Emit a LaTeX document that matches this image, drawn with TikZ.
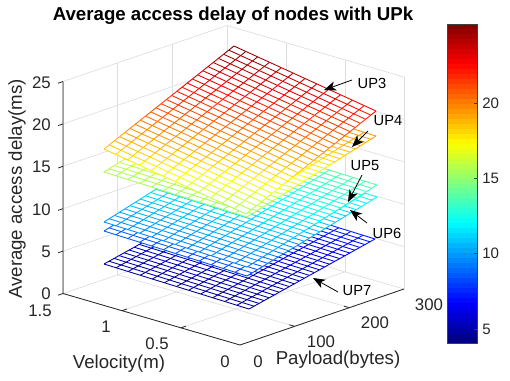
\documentclass[tikz,border=0pt]{standalone}
\usepackage{fontspec}
\setmainfont{Liberation Sans}
\usetikzlibrary{arrows.meta}

\tikzset{
 gridln/.style={draw=black!13, line width=0.5pt},
 axln/.style={draw=black!85, line width=0.6pt},
 meshln/.style={line width=0.65pt},
 ticklbl/.style={font=\fontsize{12.6}{14}\selectfont, text=black!85, inner sep=0pt},
 axlbl/.style={font=\fontsize{14}{16}\selectfont, text=black!85, inner sep=0pt},
 titlelbl/.style={font=\fontsize{14}{16}\selectfont\bfseries, inner sep=0pt},
 uplbl/.style={font=\fontsize{11}{13}\selectfont, inner sep=0pt},
 cblbl/.style={font=\fontsize{11.3}{13}\selectfont, text=black!85, inner sep=0pt, anchor=west},
 uparrow/.style={-{Stealth[length=9pt,width=7pt,inset=2.5pt]}, line width=0.6pt},
}

\newcommand{\jetset}[1]{%
 \pgfmathsetmacro{\jt}{max(0,min(1,((#1)-4.07)/21.17))}%
 \pgfmathsetmacro{\jr}{max(0,min(1,min(4*\jt-1.5,4.5-4*\jt)))}%
 \pgfmathsetmacro{\jg}{max(0,min(1,min(4*\jt-0.5,3.5-4*\jt)))}%
 \pgfmathsetmacro{\jb}{max(0,min(1,min(4*\jt+0.5,2.5-4*\jt)))}%
 \definecolor{jetc}{rgb}{\jr,\jg,\jb}}

\newcommand{\setsurf}[9]{\def\Fx{#1}\def\Fy{#2}\def\Lx{#3}\def\Ly{#4}\def\Rx{#5}\def\Ry{#6}\def\zF{#7}\def\zL{#8}\def\zR{#9}}

\newcommand{\mseg}[4]{%
 \pgfmathsetmacro{\mAx}{\Fx+(#1)/12*(\Lx-\Fx)+(#2)/25*(\Rx-\Fx)}%
 \pgfmathsetmacro{\mAy}{\Fy+(#1)/12*(\Ly-\Fy)+(#2)/25*(\Ry-\Fy)}%
 \pgfmathsetmacro{\mBx}{\Fx+(#3)/12*(\Lx-\Fx)+(#4)/25*(\Rx-\Fx)}%
 \pgfmathsetmacro{\mBy}{\Fy+(#3)/12*(\Ly-\Fy)+(#4)/25*(\Ry-\Fy)}%
 \pgfmathsetmacro{\mZ}{\zF+((#1)+(#3))/24*(\zL-\zF)+((#2)+(#4))/50*(\zR-\zF)}%
 \jetset{\mZ}%
 \draw[meshln, jetc] (\mAx,\mAy) -- (\mBx,\mBy);}

\newcommand{\drawsurf}{%
 \fill[white] (\Fx,\Fy) -- (\Lx,\Ly) -- ({\Lx+\Rx-\Fx},{\Ly+\Ry-\Fy}) -- (\Rx,\Ry) -- cycle;
 \foreach \i in {0,...,12}{\foreach \j in {0,...,24}{\pgfmathtruncatemacro{\nj}{\j+1}\mseg{\i}{\j}{\i}{\nj}}}
 \foreach \j in {0,...,25}{\foreach \i in {0,...,11}{\pgfmathtruncatemacro{\ni}{\i+1}\mseg{\i}{\j}{\ni}{\j}}}
}

\begin{document}
\begin{tikzpicture}[x=0.75pt,y=-0.75pt]
\useasboundingbox (0,0) rectangle (510,380);

% ---------- 3D box: grid and axes ----------
\begin{scope}[shift={(240,345)}, x={(-88.5pt,25.75pt)}, y={(41pt,14pt)}, z={(0pt,31.8pt)}]
 \foreach \v in {0,0.5,1,1.5}{\draw[gridln] (\v,0,0) -- (\v,3,0); \draw[gridln] (\v,3,0) -- (\v,3,5);}
 \foreach \p in {0,1,2,3}{\draw[gridln] (0,\p,0) -- (1.5,\p,0); \draw[gridln] (1.5,\p,0) -- (1.5,\p,5);}
 \foreach \zz in {1,2,3,4,5}{\draw[gridln] (1.5,0,\zz) -- (1.5,3,\zz) -- (0,3,\zz);}
 \draw[axln] (1.5,0,5) -- (1.5,0,0) -- (0,0,0) -- (0,3,0);
 \foreach \zz in {0,1,2,3,4,5}{\draw[axln] (1.5,0,\zz) -- (1.5,-0.09,\zz);}
 \foreach \v in {0.5,1}{\draw[axln] (\v,0,0) -- (\v,0.09,0);}
 \foreach \p in {1,2}{\draw[axln] (0,\p,0) -- (0.045,\p,0);}
\end{scope}

% ---------- mesh surfaces, bottom to top ----------
\setsurf{249}{309}{104}{264}{375}{239}{4.25}{4.71}{7.26}\drawsurf
\setsurf{247}{276}{104}{231}{377}{197}{8.14}{8.6}{12.2}\drawsurf
\setsurf{247}{267}{104}{222}{377}{185}{9.2}{9.67}{13.6}\drawsurf
\setsurf{247}{217}{104}{172}{376}{136}{15.1}{15.56}{19.4}\drawsurf
\setsurf{246}{214}{104}{149}{376}{111}{15.4}{18.3}{22.3}\drawsurf

% ---------- title and axis labels ----------
\node[titlelbl, anchor=base] (title) at (233,20) {Average access delay of nodes with UPk};
\node[axlbl, rotate=90] (zlab) at (17,189) {Average access delay(ms)};
\node[axlbl] (vlab) at (119,364) {Velocity(m)};
\node[axlbl] (plab) at (338,360) {Payload(bytes)};

\foreach \zv/\yb in {25/88,20/130,15/172.5,10/215,5/257,0/299}{
 \node[ticklbl, anchor=base east] (zt\zv) at (51,\yb) {\zv};}
\node[ticklbl] (vt15) at (40,311) {1.5};
\node[ticklbl] (vt10) at (106,327) {1};
\node[ticklbl] (vt05) at (157,344) {0.5};
\node[ticklbl] (vt00) at (225,362) {0};
\node[ticklbl] (pt0) at (258,362) {0};
\node[ticklbl] (pt1) at (321,342) {100};
\node[ticklbl] (pt2) at (375,323) {200};
\node[ticklbl] (pt3) at (429,305) {300};

% ---------- UP labels and arrows ----------
\node[uplbl] (up3) at (372,83) {UP3};
\node[uplbl] (up4) at (388,121) {UP4};
\node[uplbl] (up5) at (365,166) {UP5};
\node[uplbl] (up6) at (387,233) {UP6};
\node[uplbl] (up7) at (357,291) {UP7};
\coordinate (a3s) at (352,80);  \coordinate (a3t) at (324,90);
\coordinate (a4s) at (368,131); \coordinate (a4t) at (352,147);
\coordinate (a5s) at (362,175); \coordinate (a5t) at (348,202);
\coordinate (a6s) at (367,223); \coordinate (a6t) at (350,210);
\coordinate (a7s) at (338,292); \coordinate (a7t) at (313,278);
\draw[uparrow] (a3s) -- (a3t);
\draw[uparrow] (a4s) -- (a4t);
\draw[uparrow] (a5s) -- (a5t);
\draw[uparrow] (a6s) -- (a6t);
\draw[uparrow] (a7s) -- (a7t);

% ---------- colorbar ----------
\foreach \k in {0,...,63}{
 \pgfmathsetmacro{\cbv}{4.07+(\k+0.5)/64*21.17}
 \jetset{\cbv}
 \pgfmathsetmacro{\cbya}{343-\k/64*319}
 \pgfmathsetmacro{\cbyb}{343-(\k+1)/64*319-0.4}
 \fill[jetc] (447,\cbya) rectangle (477,\cbyb);
}
\draw[black!75, line width=0.6pt] (447,24) rectangle (477,343);
\foreach \cv/\cy in {5/329,10/253.7,15/178.3,20/103}{
 \draw[black!75, line width=0.6pt] (474,\cy) -- (477,\cy);
 \node[cblbl] (cb\cv) at (482,\cy) {\cv};}
\end{tikzpicture}
\end{document}
